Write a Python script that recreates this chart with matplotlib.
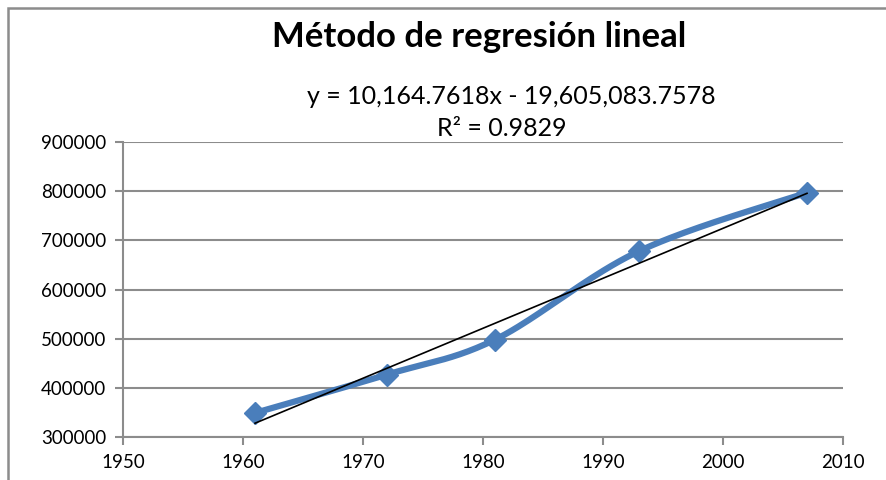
import numpy as np
import matplotlib.pyplot as plt
from matplotlib.patches import Rectangle

# datos
years = [1961, 1972, 1981, 1993, 2007]
population = [349000, 427000, 498000, 678000, 797000]
slope = 10164.7618
intercept = -19605083.7578
r2 = 0.9829
x_ticks = [1950, 1960, 1970, 1980, 1990, 2000, 2010]
y_ticks = [300000, 400000, 500000, 600000, 700000, 800000, 900000]

plt.rcParams['font.family'] = ['Lato', 'DejaVu Sans']

W, H = 887, 480
fig = plt.figure(figsize=(W / 100, H / 100), dpi=100)
ax = fig.add_axes([123 / W, (H - 437) / H, (843 - 123) / W, (437 - 142) / H])

# borde del area del grafico
fig.patches.append(Rectangle((8 / W, -0.1), 1.2, (H - 8) / H + 0.1, transform=fig.transFigure,
                             fill=False, edgecolor='#8c8c8c', linewidth=1.8))


def smooth(xs, ys, n=40):
    # curva suavizada tipo Excel (Catmull-Rom via Bezier)
    xs = (np.array(xs, float) - 1950) / 60.0
    ys = (np.array(ys, float) - 300000) / 600000.0
    p = np.column_stack([xs, ys])
    out = []
    for i in range(len(p) - 1):
        p0 = p[i - 1] if i > 0 else p[i]
        p3 = p[i + 2] if i + 2 < len(p) else p[i + 1]
        c1 = p[i] + (p[i + 1] - p0) / 6
        c2 = p[i + 1] - (p3 - p[i]) / 6
        t = np.linspace(0, 1, n)[:, None]
        seg = (1 - t) ** 3 * p[i] + 3 * (1 - t) ** 2 * t * c1 + 3 * (1 - t) * t ** 2 * c2 + t ** 3 * p[i + 1]
        out.append(seg)
    out = np.vstack(out)
    return out[:, 0] * 60 + 1950, out[:, 1] * 600000 + 300000


sx, sy = smooth(years, population)
blue = '#4a7ebb'
ax.plot(sx, sy, color=blue, linewidth=4.5, solid_capstyle='round', zorder=3)
ax.plot(years, population, linestyle='none', marker='D', markersize=11, color=blue, zorder=4)

tx = np.array([years[0], years[-1]])
ax.plot(tx, slope * tx + intercept, color='black', linewidth=1.2, zorder=5)

ax.set_xlim(1950, 2010)
ax.set_ylim(300000, 900000)
ax.set_xticks(x_ticks)
ax.set_yticks(y_ticks)
ax.set_xticklabels([str(v) for v in x_ticks])
ax.set_yticklabels([str(v) for v in y_ticks])
ax.grid(axis='y', color='#8c8c8c', linewidth=1.5)
ax.set_axisbelow(True)
for s in ['top', 'right']:
    ax.spines[s].set_visible(False)
for s in ['left', 'bottom']:
    ax.spines[s].set_color('#8c8c8c')
    ax.spines[s].set_linewidth(1.5)
ax.tick_params(axis='both', direction='out', length=6, width=1.5, color='#8c8c8c',
               labelsize=13.5, labelcolor='black', pad=6)

fig.text(479 / W, 1 - 37 / H, 'Método de regresión lineal', ha='center', va='center',
         fontsize=25, fontweight='bold')
fig.text(511 / W, 1 - 97 / H, 'y = 10,164.7618x - 19,605,083.7578', ha='center', va='center',
         fontsize=18)
fig.text(502 / W, 1 - 128 / H, 'R² = 0.9829', ha='center', va='center', fontsize=18)

fig.savefig('out.png', dpi=100)
